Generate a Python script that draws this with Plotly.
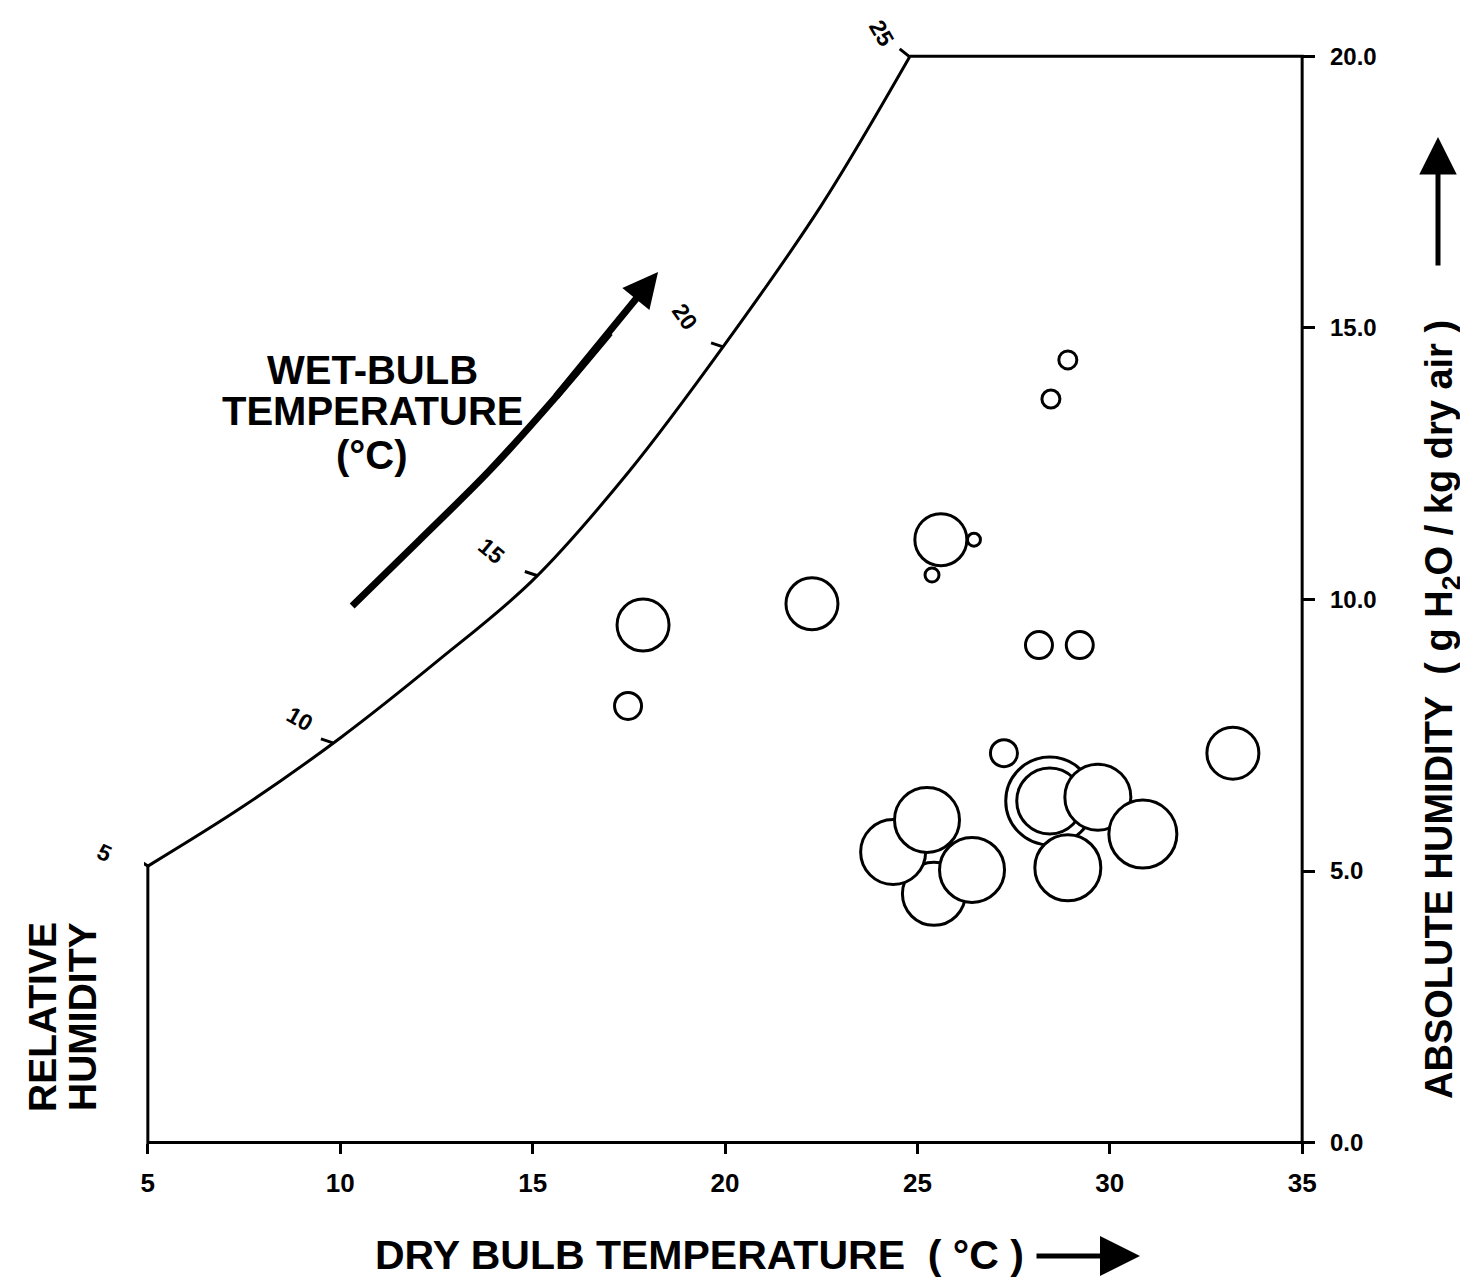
import plotly.graph_objects as go

# ---------------- data ----------------
# saturation curve: dry bulb temperature (°C) vs absolute humidity (g H2O / kg dry air)
sat_temp = [5.0, 7.5, 10.0, 12.5, 15.0, 17.5, 20.0, 22.5, 24.8]
sat_hum = [5.09, 6.20, 7.45, 8.85, 10.35, 12.35, 14.70, 17.25, 19.99]

# wet-bulb temperature marks on the saturation curve
wb_labels = ["5", "10", "15", "20", "25"]
wb_temp = [5.0, 9.81, 15.11, 19.95, 24.80]
wb_hum = [5.09, 7.36, 10.44, 14.65, 19.99]

# observations (bubbles)
obs_temp = [17.87, 17.48, 22.26, 28.91, 28.47, 25.61, 26.47, 25.38, 28.16, 29.22,
            27.25, 33.20, 25.43, 24.37, 25.25, 26.42, 28.44, 28.44, 29.69, 30.86, 28.91]
obs_hum = [9.53, 8.04, 9.92, 14.41, 13.69, 11.10, 11.10, 10.45, 9.16, 9.16,
           7.17, 7.17, 4.58, 5.35, 5.94, 5.02, 6.29, 6.29, 6.36, 5.68, 5.06]
obs_size = [52, 27, 52, 18, 18, 52, 13, 14, 27, 27,
            27, 52, 63, 65, 65, 65, 88, 66, 66, 68, 66]

x_ticks = [5, 10, 15, 20, 25, 30, 35]
y_ticks = [0, 5, 10, 15, 20]

# wet-bulb direction arrow (decorative path)
arrow_temp = [10.31, 12.07, 13.89, 15.58, 17.01]
arrow_hum = [9.88, 11.10, 12.38, 13.71, 14.91]
arrow_tip = (18.26, 16.03)

# ---------------- layout constants ----------------
OFF = 8                       # default page margin of the html body
W, H = 1468 - OFF, 1284 - OFF
ML, MR, MT, MB = 136, 162, 32, 136
XR = [4.9, 35.1]
YR = [-0.1, 20.3]
PX_X = (W - ML - MR) / (XR[1] - XR[0])
PX_Y = (H - MT - MB) / (YR[1] - YR[0])
FONT = "Liberation Sans, Arial, Helvetica, sans-serif"
LW = 3

fig = go.Figure()

# frame: left edge, bottom, right edge, top edge
xmin, xmax = x_ticks[0], x_ticks[-1]
ymin, ymax = y_ticks[0], y_ticks[-1]
fig.add_trace(go.Scatter(
    x=[xmin, xmin, xmax, xmax, sat_temp[-1]],
    y=[sat_hum[0], ymin, ymin, ymax, ymax],
    mode="lines", line=dict(color="black", width=LW), hoverinfo="skip"))

# saturation curve
fig.add_trace(go.Scatter(x=sat_temp, y=sat_hum, mode="lines",
                         line=dict(color="black", width=LW, shape="spline", smoothing=1.0),
                         hoverinfo="skip"))

# small tick marks on the saturation curve
tick_dx = [-14, -12, -12, -12, -10]
tick_dy = [9, 4, 4, 4, 8]
tx, ty = [], []
for xv, yv, dx, dy in zip(wb_temp, wb_hum, tick_dx, tick_dy):
    tx += [xv, xv + dx / PX_X, None]
    ty += [yv, yv + dy / PX_Y, None]
fig.add_trace(go.Scatter(x=tx, y=ty, mode="lines",
                         line=dict(color="black", width=LW), hoverinfo="skip"))

# wet-bulb arrow body
fig.add_trace(go.Scatter(x=arrow_temp, y=arrow_hum, mode="lines",
                         line=dict(color="black", width=7, shape="spline"),
                         hoverinfo="skip"))

# bubbles
fig.add_trace(go.Scatter(x=obs_temp, y=obs_hum, mode="markers",
                         marker=dict(size=obs_size, color="white", opacity=1,
                                     line=dict(color="black", width=LW)),
                         hoverinfo="skip", cliponaxis=False))

ann = []
# wet-bulb arrow head (tail overlaps the body so no gap shows)
ann.append(dict(x=arrow_tip[0], y=arrow_tip[1], xref="x", yref="y",
                ax=arrow_temp[-2], ay=arrow_hum[-2], axref="x", ayref="y",
                showarrow=True, arrowhead=2, arrowsize=1.0, arrowwidth=7,
                arrowcolor="black", text=""))

# wet-bulb labels along the curve
shifts = [(-43, 13, 25), (-33, 24, 30), (-45, 25, 40), (-38, 30, 55), (-28, 24, 60)]
for lab, xv, yv, (sx, sy, ang) in zip(wb_labels, wb_temp, wb_hum, shifts):
    ann.append(dict(x=xv, y=yv, xref="x", yref="y", text=lab, showarrow=False,
                    xshift=sx, yshift=sy, textangle=ang,
                    xanchor="center", yanchor="middle",
                    font=dict(family=FONT, size=23, color="black", weight="bold")))


def px2paper(px, py):
    """page pixel -> paper fraction"""
    fx, fy = px - OFF, py - OFF
    return (fx - ML) / (W - ML - MR), (H - MB - fy) / (H - MT - MB)


bold = dict(family=FONT, color="black", weight="bold")
center = dict(xanchor="center", yanchor="middle", showarrow=False,
              xref="paper", yref="paper")

for txt, py in [("WET-BULB", 370), ("TEMPERATURE", 411), ("(°C)", 455)]:
    x0, y0 = px2paper(372, py)
    ann.append(dict(x=x0, y=y0, text=txt, font=dict(size=40, **bold), **center))

for txt, px in [("RELATIVE", 42), ("HUMIDITY", 82)]:
    x0, y0 = px2paper(px, 1017)
    ann.append(dict(x=x0, y=y0, text=txt, textangle=-90,
                    font=dict(size=39, **bold), **center))

# bottom title + arrow
x0, y0 = px2paper(699, 1255)
ann.append(dict(x=x0, y=y0,
                text="DRY BULB TEMPERATURE\u00a0\u00a0(\u00a0°C\u00a0)",
                font=dict(size=41, **bold), **center))
x0, y0 = px2paper(1140, 1256)
ann.append(dict(x=x0, y=y0, xref="paper", yref="paper", ax=-105, ay=0,
                showarrow=True, arrowhead=2, arrowsize=1.6, arrowwidth=5,
                arrowcolor="black", text=""))

# right title + arrow
x0, y0 = px2paper(1442, 710)
ann.append(dict(x=x0, y=y0,
                text="ABSOLUTE HUMIDITY\u00a0\u00a0(\u00a0g H<sub>2</sub>O / kg dry air\u00a0)",
                textangle=-90, font=dict(size=38, **bold), **center))
x0, y0 = px2paper(1438, 137)
ann.append(dict(x=x0, y=y0, xref="paper", yref="paper", ax=0, ay=130,
                showarrow=True, arrowhead=2, arrowsize=1.5, arrowwidth=5,
                arrowcolor="black", text=""))

fig.update_layout(
    width=W, height=H,
    margin=dict(l=ML, r=MR, t=MT, b=MB, pad=0),
    paper_bgcolor="white", plot_bgcolor="white",
    showlegend=False,
    annotations=ann,
    xaxis=dict(range=XR, showgrid=False, zeroline=False, showline=False,
               anchor="free", position=(0 - YR[0]) / (YR[1] - YR[0]),
               tickmode="array", tickvals=x_ticks, ticktext=[str(v) for v in x_ticks],
               ticks="outside", ticklen=10, tickwidth=LW, tickcolor="black",
               ticklabelstandoff=7,
               tickfont=dict(size=26, **bold)),
    yaxis=dict(range=YR, showgrid=False, zeroline=False, showline=False,
               side="right", anchor="free",
               position=(35 - XR[0]) / (XR[1] - XR[0]),
               tickmode="array", tickvals=y_ticks,
               ticktext=[f"{v:.1f}" for v in y_ticks],
               ticks="outside", ticklen=12, tickwidth=LW, tickcolor="black",
               ticklabelstandoff=10,
               tickfont=dict(size=24, **bold)),
)

fig.write_html("out.html")
